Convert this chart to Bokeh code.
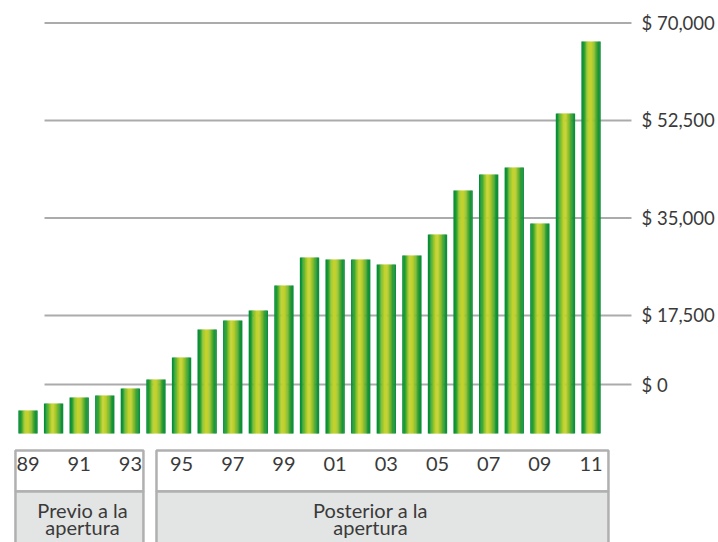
import numpy as np
from bokeh.plotting import figure
from bokeh.models import ColumnDataSource, Range1d
from bokeh.core.properties import value
from bokeh.embed import file_html
from bokeh.resources import INLINE

# ---------------- data ----------------
years = ["89", "90", "91", "92", "93", "94", "95", "96", "97", "98", "99", "00",
         "01", "02", "03", "04", "05", "06", "07", "08", "09", "10", "11"]
values = [450, 1700, 2780, 3140, 4390, 6010, 9960, 14980, 16600, 18390, 22880, 27910,
          27550, 27550, 26650, 28270, 32040, 39930, 42810, 44060, 34010, 53760, 66680]
bar_base = -3700

tick_values = [5100, 17500, 35000, 52500, 70000]
tick_labels = ["$ 0", "$ 17,500", "$ 35,000", "$ 52,500", "$ 70,000"]

year_label_index = [0, 2, 4, 6, 8, 10, 12, 14, 16, 18, 20, 22]
year_labels = ["89", "91", "93", "95", "97", "99", "01", "03", "05", "07", "09", "11"]

group_line1 = ["Previo a la", "Posterior a la"]
group_line2 = ["apertura", "apertura"]

# ---------------- layout constants ----------------
FONT = value("Lato")
TEXT_COLOR = "#3a3a3a"
GRID_COLOR = "#ababab"
BOX_LINE = "#b0b0b0"
BOX_FILL = "#e3e4e4"

p = figure(width=718, height=542, output_backend="svg", toolbar_location=None,
           x_range=Range1d(-1.0747, 26.98), y_range=Range1d(-23250, 74039),
           min_border=0)
p.axis.visible = False
p.grid.visible = False
p.outline_line_color = None
p.background_fill_color = "white"
p.border_fill_color = "white"

# grid lines
p.segment(x0=0.645, x1=23.58, y0=tick_values, y1=tick_values,
          line_color=GRID_COLOR, line_width=2)

# gradient bars (cylinder look built from vertical strips)
n_strips = 16
bar_w = 0.74
stop_t = [0.0, 0.12, 0.28, 0.42, 0.56, 0.72, 0.88, 1.0]
stop_r = [0, 25, 135, 200, 190, 120, 30, 8]
stop_g = [138, 152, 194, 212, 207, 184, 150, 140]
stop_b = [58, 52, 46, 46, 45, 46, 52, 58]
xs, tops, cols = [], [], []
sw = bar_w / n_strips
for k in range(n_strips):
    t = (k + 0.5) / n_strips
    r = int(np.interp(t, stop_t, stop_r))
    g = int(np.interp(t, stop_t, stop_g))
    b = int(np.interp(t, stop_t, stop_b))
    c = "#%02x%02x%02x" % (r, g, b)
    for i, v in enumerate(values):
        xs.append(i - bar_w / 2 + (k + 0.5) * sw)
        tops.append(v)
        cols.append(c)
src = ColumnDataSource(dict(x=xs, top=tops, color=cols))
p.vbar(x="x", top="top", bottom=bar_base, width=sw * 1.35, fill_color="color",
       line_color=None, source=src)

# label boxes
box_left = [-0.49, 5.02]
box_right = [4.51, 22.68]
p.quad(left=box_left, right=box_right, top=-6736, bottom=-14095,
       fill_color="white", line_color=BOX_LINE, line_width=2.5)
p.quad(left=box_left, right=box_right, top=-14095, bottom=-40000,
       fill_color=BOX_FILL, line_color=BOX_LINE, line_width=2.5)

# year labels
p.text(x=year_label_index, y=[-9070] * len(year_labels), text=year_labels,
       text_font=FONT, text_font_size="20px", text_color=TEXT_COLOR,
       text_align="center", text_baseline="middle")

# group labels
gx = [2.13, 13.38]
p.text(x=gx, y=[-17327] * 2, text=group_line1, text_font=FONT,
       text_font_size="20px", text_color=TEXT_COLOR,
       text_align="center", text_baseline="middle")
p.text(x=gx, y=[-20557] * 2, text=group_line2, text_font=FONT,
       text_font_size="20px", text_color=TEXT_COLOR,
       text_align="center", text_baseline="middle")

# value axis labels
p.text(x=[23.97] * len(tick_values), y=tick_values, text=tick_labels,
       text_font=FONT, text_font_size="18.5px", text_color=TEXT_COLOR,
       text_align="left", text_baseline="middle")

open("out.html", "w").write(file_html(p, INLINE))
